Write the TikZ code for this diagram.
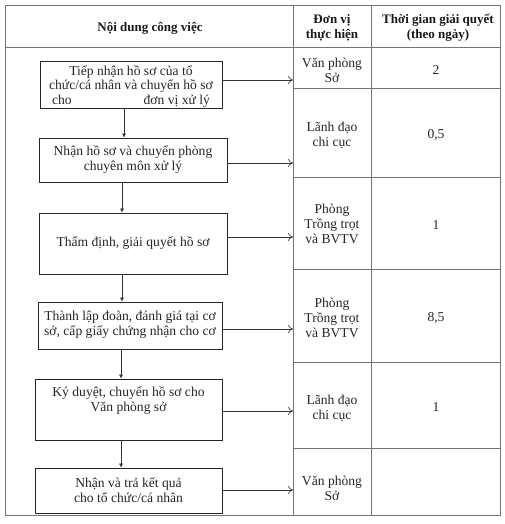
\documentclass[tikz,border=0pt]{standalone}
\usepackage{fontspec}
\setmainfont{Liberation Serif}
\usetikzlibrary{arrows.meta}
\begin{document}
\begin{tikzpicture}[x=1pt,y=-1pt,
  font=\fontsize{13.6}{15}\selectfont,
  box/.style={draw=black!85, line width=0.8pt, inner sep=0pt, align=center, text=black!85},
  cell/.style={align=center, text=black!85, inner sep=0pt},
  hd/.style={align=center, text=black!90, inner sep=0pt, font=\fontsize{13}{15}\selectfont\bfseries},
  harr/.style={-{To[length=5pt,width=8pt]}, draw=black!80, line width=0.6pt},
  varr/.style={-{Latex[length=4pt,width=4pt]}, draw=black!80, line width=0.6pt},
  grid/.style={draw=black!55, line width=0.7pt}]
\useasboundingbox (0,0) rectangle (505,524);
% table
\draw[grid] (5,5) rectangle (500,515);
\draw[grid] (5,47) -- (500,47);
\draw[grid] (293,5) -- (293,515);
\draw[grid] (371,5) -- (371,515);
\foreach \y in {88,177,269,362,448} \draw[grid] (293,\y) -- (500,\y);
% headers
\node[hd] (h1) at (150,28) {Nội dung công việc};
\node[hd] (h2) at (332,28) {Đơn vị\\thực hiện};
\node[hd] (h3) at (438,28) {Thời gian giải quyết\\(theo ngày)};
% unit cells
\node[cell] (u1) at (332,70) {Văn phòng\\Sở};
\node[cell] (u2) at (332,135) {Lãnh đạo\\chi cục};
\node[cell] (u3) at (332,224) {Phòng\\Trồng trọt\\và BVTV};
\node[cell] (u4) at (332,318) {Phòng\\Trồng trọt\\và BVTV};
\node[cell] (u5) at (332,408) {Lãnh đạo\\chi cục};
\node[cell] (u6) at (332,488) {Văn phòng\\Sở};
% time cells
\node[cell] (d1) at (436,70) {2};
\node[cell] (d2) at (436,135) {0,5};
\node[cell] (d3) at (436,225) {1};
\node[cell] (d4) at (436,318) {8,5};
\node[cell] (d5) at (436,407) {1};
% process boxes
\node[box, minimum width=182pt, minimum height=47pt] (b1) at (131,85) {};
\node[cell, font=\fontsize{13.6}{14.5}\selectfont] (t1) at (131,86.5)
  {Tiếp nhận hồ sơ của tổ\\chức/cá nhân và chuyển hồ sơ\\\makebox[158pt]{cho\hfill đơn vị xử lý}};
\node[box, minimum width=188pt, minimum height=44pt] (b2) at (133,160)
  {Nhận hồ sơ và chuyển phòng\\chuyên môn xử lý};
\node[box, minimum width=188pt, minimum height=61pt] (b3) at (133,243.5)
  {Thẩm định, giải quyết hồ sơ};
\node[box, minimum width=184pt, minimum height=47pt] (b4) at (130,325.5) {};
\node[cell] (t4) at (130,325) {Thành lập đoàn, đánh giá tại cơ\\sở, cấp giấy chứng nhận cho cơ};
\node[box, minimum width=187pt, minimum height=61pt] (b5) at (128.5,409.5) {};
\node[cell] (t5) at (128.5,400.5) {Ký duyệt, chuyển hồ sơ cho\\Văn phòng sở};
\node[box, minimum width=187pt, minimum height=45pt] (b6) at (128.5,490.5)
  {Nhận và trả kết quả\\cho tổ chức/cá nhân};
% horizontal arrows
\coordinate (e1) at (293,80);
\coordinate (e2) at (293,163);
\coordinate (e3) at (293,237);
\coordinate (e4) at (293,329);
\coordinate (e5) at (293,411);
\coordinate (e6) at (293,490);
\draw[harr] (b1.east |- e1) -- (e1);
\draw[harr] (b2.east |- e2) -- (e2);
\draw[harr] (b3.east |- e3) -- (e3);
\draw[harr] (b4.east |- e4) -- (e4);
\draw[harr] (b5.east |- e5) -- (e5);
\draw[harr] (b6.east |- e6) -- (e6);
% vertical arrows
\coordinate (v1) at (124,0);
\coordinate (v2) at (122,0);
\coordinate (v3) at (121,0);
\draw[varr] (b1.south -| v1) -- (b2.north -| v1);
\draw[varr] (b2.south -| v2) -- (b3.north -| v2);
\draw[varr] (b3.south -| v2) -- (b4.north -| v2);
\draw[varr] (b4.south -| v3) -- (b5.north -| v3);
\draw[varr] (b5.south -| v3) -- (b6.north -| v3);
\end{tikzpicture}
\end{document}
